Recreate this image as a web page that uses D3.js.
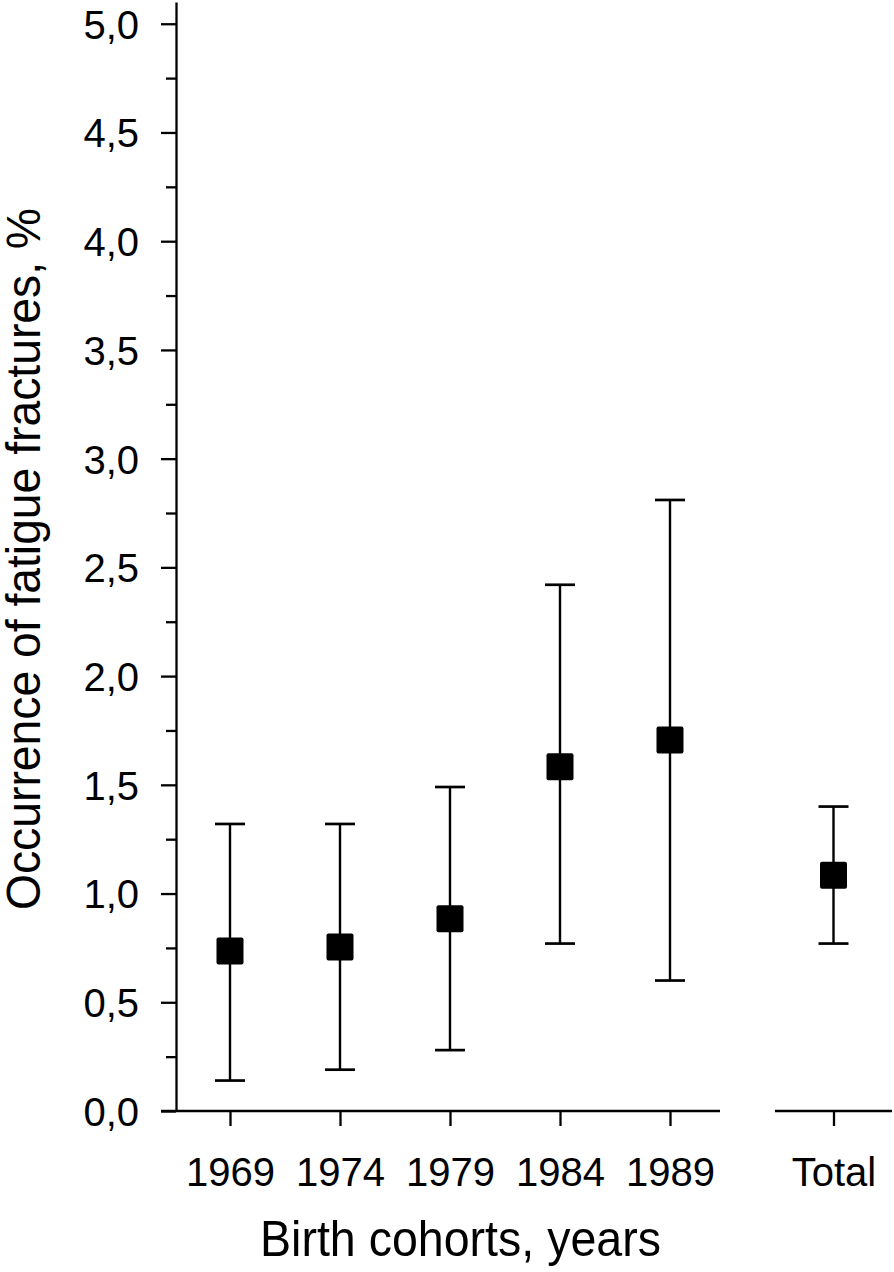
<!DOCTYPE html>
<html>
<head>
<meta charset="utf-8">
<script src="https://cdn.jsdelivr.net/npm/d3@7"></script>
<style>
  html, body { margin: 0; padding: 0; background: #fff; }
  svg { display: block; }
  text { font-family: "Liberation Sans", Arial, Helvetica, sans-serif; fill: #000; }
</style>
</head>
<body>
<svg id="chart" width="894" height="1272"></svg>
<script>
// ---- Data ----
const cohorts = ["1969", "1974", "1979", "1984", "1989"];
const cohortMean  = [0.736, 0.754, 0.884, 1.583, 1.706];
const cohortLower = [0.14, 0.19, 0.28, 0.77, 0.60];
const cohortUpper = [1.32, 1.32, 1.49, 2.42, 2.81];
const totalLabel = ["Total"];
const totalMean  = [1.084];
const totalLower = [0.77];
const totalUpper = [1.40];
const yMajorTicks = [0, 0.5, 1.0, 1.5, 2.0, 2.5, 3.0, 3.5, 4.0, 4.5, 5.0];
const yMinorTicks = [0.25, 0.75, 1.25, 1.75, 2.25, 2.75, 3.25, 3.75, 4.25, 4.75];
const yTitle = "Occurrence of fatigue fractures, %";
const xTitle = "Birth cohorts, years";

// ---- Layout ----
const svg = d3.select("#chart");
const axisX = 176, baseY = 1111;

const y = d3.scaleLinear().domain([0, 5.1]).range([baseY, 2]);
const xMain = d3.scalePoint().domain(cohorts).range([175, 725]).padding(0.5);
const xTot = d3.scalePoint().domain(totalLabel).range([775, 892]).padding(0.5);

const fmt = d => d.toFixed(1).replace(".", ",");

// Y axis (major)
const gy = svg.append("g").attr("transform", `translate(${axisX},0)`)
  .call(d3.axisLeft(y).tickValues(yMajorTicks).tickFormat(fmt).tickSize(15).tickSizeOuter(0).tickPadding(22));
gy.select(".domain").attr("stroke", "#000").attr("stroke-width", 2.3);
gy.selectAll(".tick line").attr("stroke", "#000").attr("stroke-width", 2.3);
gy.selectAll(".tick text").attr("font-size", 40).attr("dy", "0.36em")
  .style("font-family", '"Liberation Sans", Arial, sans-serif');
// Y axis (minor)
const gym = svg.append("g").attr("transform", `translate(${axisX},0)`)
  .call(d3.axisLeft(y).tickValues(yMinorTicks).tickFormat("").tickSize(10).tickSizeOuter(0));
gym.select(".domain").remove();
gym.selectAll(".tick line").attr("stroke", "#000").attr("stroke-width", 2.3);

// X axis baseline segments
svg.append("line").attr("x1", axisX - 15).attr("x2", xMain.range()[1] - 5)
  .attr("y1", baseY).attr("y2", baseY).attr("stroke", "#000").attr("stroke-width", 2.3);
svg.append("line").attr("x1", xTot.range()[0]).attr("x2", xTot.range()[1])
  .attr("y1", baseY).attr("y2", baseY).attr("stroke", "#000").attr("stroke-width", 2.3);

// X ticks
function xAxis(scale) {
  const g = svg.append("g").attr("transform", `translate(0,${baseY})`)
    .call(d3.axisBottom(scale).tickSize(15).tickSizeOuter(0).tickPadding(32));
  g.select(".domain").remove();
  g.selectAll(".tick line").attr("stroke", "#000").attr("stroke-width", 2.3);
  g.selectAll(".tick text").attr("font-size", 40)
    .style("font-family", '"Liberation Sans", Arial, sans-serif');
}
xAxis(xMain);
xAxis(xTot);

// Error bars + markers
const capW = 30, sq = 27;
function drawSeries(scale, cats, mean, lo, hi) {
  const g = svg.append("g");
  cats.forEach((c, i) => {
    const cx = scale(c);
    g.append("line").attr("x1", cx).attr("x2", cx).attr("y1", y(lo[i])).attr("y2", y(hi[i]))
      .attr("stroke", "#000").attr("stroke-width", 2.4);
    [lo[i], hi[i]].forEach(v => {
      g.append("line").attr("x1", cx - capW / 2).attr("x2", cx + capW / 2)
        .attr("y1", y(v)).attr("y2", y(v)).attr("stroke", "#000").attr("stroke-width", 2.7);
    });
    g.append("rect").attr("x", cx - sq / 2).attr("y", y(mean[i]) - sq / 2)
      .attr("width", sq).attr("height", sq).attr("rx", 2).attr("fill", "#000");
  });
}
drawSeries(xMain, cohorts, cohortMean, cohortLower, cohortUpper);
drawSeries(xTot, totalLabel, totalMean, totalLower, totalUpper);

// Titles
svg.append("text").attr("x", 460.5).attr("y", 1256).attr("text-anchor", "middle")
  .attr("font-size", 50).attr("textLength", 401).attr("lengthAdjust", "spacingAndGlyphs")
  .text(xTitle);
svg.append("text").attr("transform", "translate(40,559) rotate(-90)").attr("text-anchor", "middle")
  .attr("font-size", 49).attr("textLength", 702).attr("lengthAdjust", "spacingAndGlyphs")
  .text(yTitle);
</script>
</body>
</html>
